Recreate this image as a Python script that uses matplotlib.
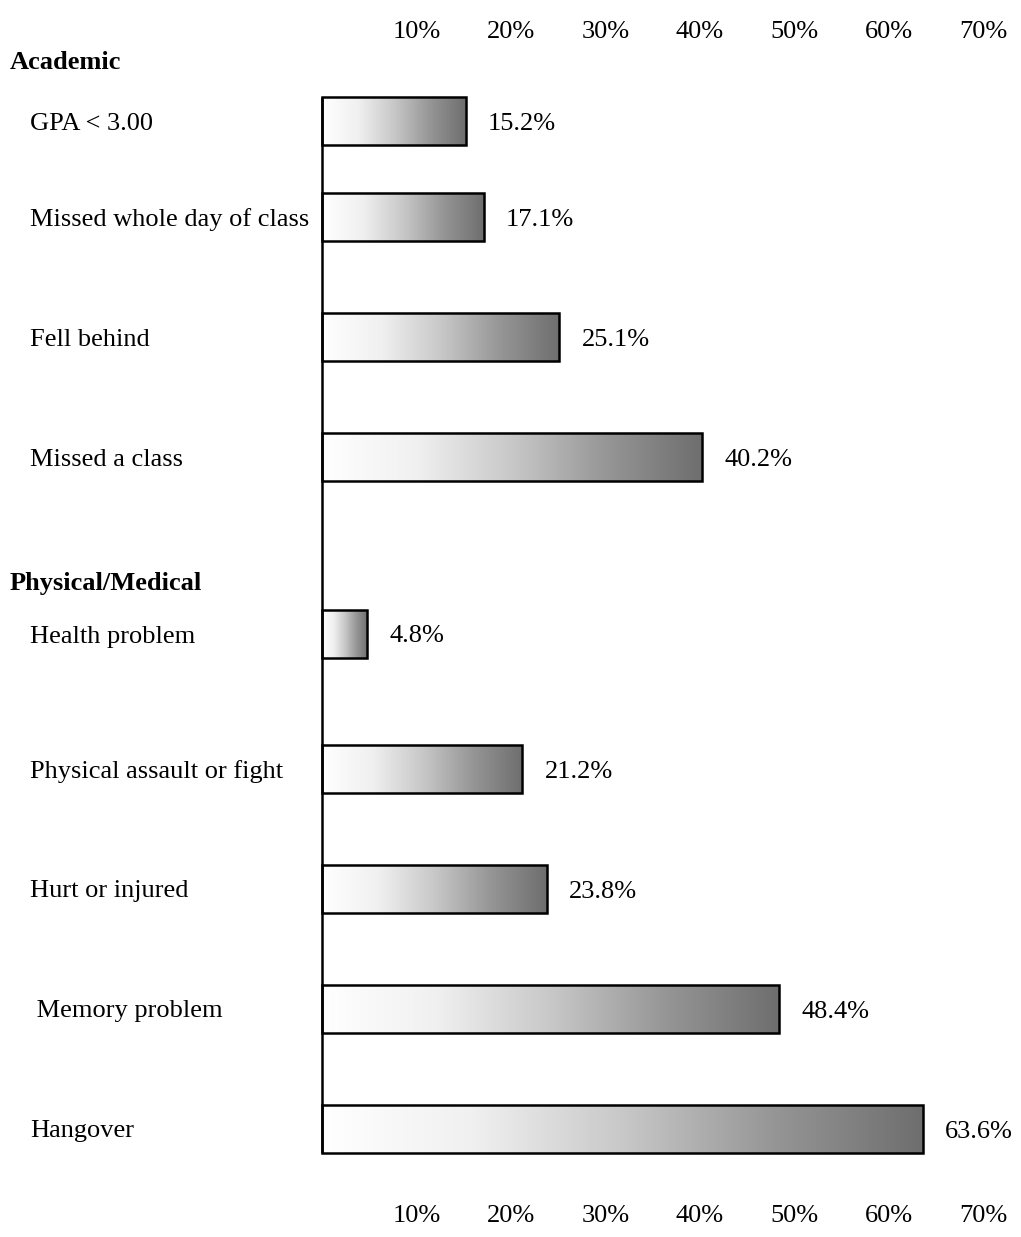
"""Negative consequences of drinking: horizontal gradient bars by category."""

import matplotlib

matplotlib.use("Agg")
import matplotlib.pyplot as plt
import matplotlib.transforms as mtransforms
import numpy as np
from matplotlib.colors import LinearSegmentedColormap
from matplotlib.patches import Rectangle

plt.rcParams["font.family"] = ["Liberation Serif", "DejaVu Serif"]

# data
academic_labels = ["GPA < 3.00", "Missed whole day of class", "Fell behind", "Missed a class"]
academic_values = [15.2, 17.1, 25.1, 40.2]
medical_labels = [
    "Health problem",
    "Physical assault or fight",
    "Hurt or injured",
    " Memory problem",
    "Hangover",
]
medical_values = [4.8, 21.2, 23.8, 48.4, 63.6]
section_titles = ["Academic", "Physical/Medical"]
tick_values = [10, 20, 30, 40, 50, 60, 70]

# layout (pixel rows of the 1021x1237 canvas, y grows downwards)
W, H = 1021, 1237
X0 = 322            # pixel column of 0%
PX_PER_PCT = 9.45
academic_rows = [121, 217, 337, 457]
medical_rows = [634, 769, 889, 1009, 1129]
title_rows = [60, 581]
tick_rows = [29, 1214]
BAR_H = 48
FS = 19

fig = plt.figure(figsize=(W / 100, H / 100), dpi=100)
ax = fig.add_axes([0, 0, 1, 1])
ax.axis("off")

cmap = LinearSegmentedColormap.from_list(
    "bar",
    [(0.0, "#ffffff"), (0.25, "#f0f0f0"), (0.5, "#c8c8c8"), (0.75, "#969696"), (1.0, "#6e6e6e")],
)
grad = np.linspace(0, 1, 256).reshape(1, -1)

# x in pixels, y in data rows
px_x = mtransforms.blended_transform_factory(mtransforms.IdentityTransform(), ax.transData)

labels = academic_labels + medical_labels
values = academic_values + medical_values
rows = academic_rows + medical_rows

for label, value, row in zip(labels, values, rows):
    top, bottom = row - BAR_H / 2, row + BAR_H / 2
    ax.imshow(grad, cmap=cmap, aspect="auto", extent=[0, value, bottom, top],
              interpolation="bilinear", zorder=2)
    ax.add_patch(Rectangle((0, top), value, BAR_H, facecolor="none",
                           edgecolor="black", linewidth=1.8, zorder=3))
    ax.annotate(f"{value}%", (value, row), xytext=(16, 0), textcoords="offset points",
                ha="left", va="center_baseline", fontsize=FS)
    ax.text(30, row, label, transform=px_x, ha="left", va="center_baseline", fontsize=FS)

# imshow resets limits, so set them last
ax.set_xlim(-X0 / PX_PER_PCT, (W - X0) / PX_PER_PCT)
ax.set_ylim(H, 0)

# vertical baseline
ax.plot([0, 0], [rows[0] - BAR_H / 2, rows[-1] + BAR_H / 2], color="black",
        linewidth=1.8, zorder=4, solid_capstyle="butt")

for title, row in zip(section_titles, title_rows):
    ax.text(10, row, title, transform=px_x, ha="left", va="center_baseline",
            fontsize=FS, fontweight="bold")

for t in tick_values:
    for row in tick_rows:
        ax.text(t, row, f"{t}%", ha="center", va="center_baseline", fontsize=FS)

fig.savefig("out.png", dpi=100)
